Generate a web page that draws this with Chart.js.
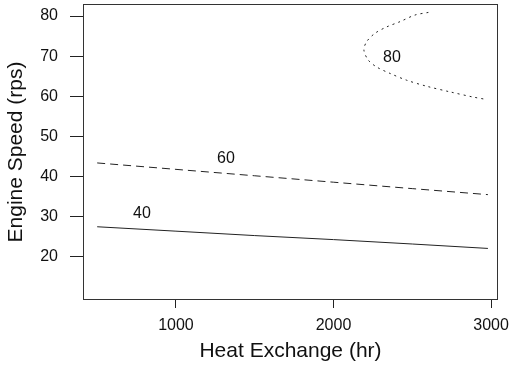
<!DOCTYPE html>
<html>
<head>
<meta charset="utf-8">
<script src="https://cdn.jsdelivr.net/npm/chart.js@4/dist/chart.umd.min.js"></script>
<style>
  html, body { margin: 0; padding: 0; background: #fff; }
  #wrap { width: 510px; height: 368px; }
</style>
</head>
<body>
<div id="wrap"><canvas id="c" width="510" height="368"></canvas></div>
<script>
// Contour lines of engine speed vs. heat-exchange hours
const heat40 = [500, 1000, 1500, 2000, 2500, 2980];
const speed40 = [27.5, 26.4, 25.3, 24.3, 23.2, 22.1];

const heat60 = [500, 1000, 1500, 2000, 2500, 2980];
const speed60 = [43.4, 41.8, 40.2, 38.6, 37.0, 35.5];

const heat80 = [2602, 2517, 2422, 2338, 2263, 2210, 2193, 2221, 2274, 2359, 2465, 2592, 2740, 2888, 2973];
const speed80 = [80.9, 80.25, 78.6, 77.3, 75.7, 73.6, 71.5, 69.0, 67.3, 65.7, 64.0, 62.5, 61.1, 59.8, 59.2];

// Contour level labels: [text, hours, speed]
const levelLabels = [
  ['40', 784, 30.75],
  ['60', 1317, 44.5],
  ['80', 2371, 69.75]
];

const xTicks = [1000, 2000, 3000];
const yTicks = [20, 30, 40, 50, 60, 70, 80];

const FONT = '"Liberation Sans", Arial, Helvetica, sans-serif';
const INK = '#222';

function pts(xs, ys) { return xs.map((x, i) => ({ x: x, y: ys[i] })); }

const frame = {
  id: 'frame',
  afterDatasetsDraw(chart) {
    const { ctx, chartArea: a, scales } = chart;
    ctx.save();
    ctx.strokeStyle = '#333';
    ctx.lineWidth = 1;
    ctx.strokeRect(a.left + 0.5, a.top + 0.5, a.right - a.left - 1, a.bottom - a.top - 1);
    ctx.fillStyle = '#111';
    ctx.font = '16px ' + FONT;
    ctx.textAlign = 'center';
    ctx.textBaseline = 'middle';
    levelLabels.forEach(([t, x, y]) => {
      ctx.fillText(t, scales.x.getPixelForValue(x), scales.y.getPixelForValue(y));
    });
    ctx.restore();
  }
};

const lineBase = { showLine: true, pointRadius: 0, borderWidth: 1, borderColor: INK, fill: false };

new Chart(document.getElementById('c'), {
  type: 'scatter',
  data: {
    datasets: [
      Object.assign({ label: '40', data: pts(heat40, speed40) }, lineBase),
      Object.assign({ label: '60', data: pts(heat60, speed60), borderDash: [8, 5] }, lineBase),
      Object.assign({ label: '80', data: pts(heat80, speed80), borderDash: [2, 4], tension: 0.3 }, lineBase)
    ]
  },
  options: {
    responsive: false,
    devicePixelRatio: 1,
    animation: false,
    layout: { padding: { top: 4, right: 12, left: 0, bottom: 0 } },
    plugins: { legend: { display: false }, tooltip: { enabled: false } },
    scales: {
      x: {
        type: 'linear',
        min: 410, max: 3044,
        afterBuildTicks(s) { s.ticks = xTicks.map(v => ({ value: v })); },
        afterFit(s) { s.height = 68; s.paddingLeft = 0; s.paddingRight = 0; },
        grid: { drawOnChartArea: false, drawTicks: true, tickLength: 8, tickColor: INK, lineWidth: 1 },
        border: { display: false },
        ticks: { color: '#111', font: { family: FONT, size: 16 }, padding: 8, maxRotation: 0, callback: v => String(v) },
        title: { display: true, text: 'Heat Exchange (hr)', color: '#111', font: { family: FONT, size: 21 }, padding: { top: 0, bottom: 4 } }
      },
      y: {
        type: 'linear',
        min: 9.25, max: 83,
        afterBuildTicks(s) { s.ticks = yTicks.map(v => ({ value: v })); },
        afterFit(s) { s.width = 83; s.paddingTop = 0; s.paddingBottom = 0; },
        grid: { drawOnChartArea: false, drawTicks: true, tickLength: 13, tickColor: INK, lineWidth: 1 },
        border: { display: false },
        ticks: { color: '#111', font: { family: FONT, size: 16 }, padding: 12, callback: v => String(v) },
        title: { display: true, text: 'Engine Speed (rps)', color: '#111', font: { family: FONT, size: 21 }, padding: { top: 4, bottom: 0 } }
      }
    }
  },
  plugins: [frame]
});
</script>
</body>
</html>
